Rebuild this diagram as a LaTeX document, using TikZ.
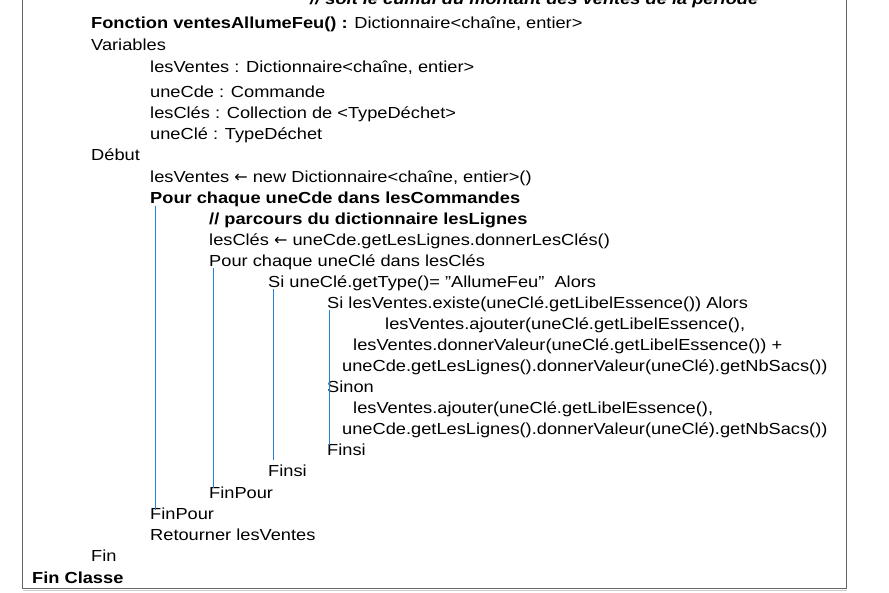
\documentclass[tikz,border=0pt]{standalone}
\usepackage{fontspec}
\setmainfont{Liberation Sans}[FakeStretch=1.14,Ligatures=ResetAll]
\newfontfamily\arrowfont{DejaVu Sans}
\begin{document}
\begin{tikzpicture}[x=1pt,y=-1pt,
  t/.style={anchor=base west,inner sep=0pt,font=\fontsize{16}{18}\selectfont},
  bar/.style={draw=blue!50!cyan!70!gray,line width=0.6pt}]
\useasboundingbox (0,0) rectangle (889,592);
\begin{scope}
\clip (0,0) rectangle (889,592);
\draw[gray!80!black,line width=1pt] (22,-20) -- (22,588) -- (846,588) -- (846,-20);
\draw[gray!40,line width=1pt] (23,590) -- (847,590);
\node[t,font=\fontsize{16}{18}\selectfont\bfseries\itshape] (c0) at (310,4) {// soit le cumul du montant des ventes de la période};
\end{scope}
\newcommand\la{{\arrowfont\fontsize{16}{18}\selectfont ←}}
\node[t] (l1) at (91,28) {\textbf{Fonction ventesAllumeFeu() :} Dictionnaire<chaîne, entier>};
\node[t] (l2) at (91,50) {Variables};
\node[t] (l3) at (150,72) {lesVentes : Dictionnaire<chaîne, entier>};
\node[t] (l4) at (150,97) {uneCde : Commande};
\node[t] (l5) at (150,118) {lesClés : Collection de <TypeDéchet>};
\node[t] (l6) at (150,139) {uneClé : TypeDéchet};
\node[t] (l7) at (91,160) {Début};
\node[t] (l8) at (150,182) {lesVentes \la{} new Dictionnaire<chaîne, entier>()};
\node[t,font=\fontsize{16}{18}\selectfont\bfseries] (l9) at (150,203) {Pour chaque uneCde dans lesCommandes};
\node[t,font=\fontsize{16}{18}\selectfont\bfseries] (l10) at (209,224) {// parcours du dictionnaire lesLignes};
\node[t] (l11) at (209,245) {lesClés \la{} uneCde.getLesLignes.donnerLesClés()};
\node[t] (l12) at (209,266) {Pour chaque uneClé dans lesClés};
\node[t] (l13) at (268,287) {Si uneClé.getType()= "AllumeFeu"\ \ Alors};
\node[t] (l14) at (327,308) {Si lesVentes.existe(uneClé.getLibelEssence()) Alors};
\node[t] (l15) at (385,329) {lesVentes.ajouter(uneClé.getLibelEssence(),};
\node[t] (l16) at (353,350) {lesVentes.donnerValeur(uneClé.getLibelEssence()) +};
\node[t] (l17) at (342,371) {uneCde.getLesLignes().donnerValeur(uneClé).getNbSacs())};
\node[t] (l18) at (327,392) {Sinon};
\node[t] (l19) at (353,413) {lesVentes.ajouter(uneClé.getLibelEssence(),};
\node[t] (l20) at (342,434) {uneCde.getLesLignes().donnerValeur(uneClé).getNbSacs())};
\node[t] (l21) at (327,455) {Finsi};
\node[t] (l22) at (268,476) {Finsi};
\node[t] (l23) at (209,498) {FinPour};
\node[t] (l24) at (150,519) {FinPour};
\node[t] (l25) at (150,540) {Retourner lesVentes};
\node[t] (l26) at (91,561) {Fin};
\node[t,font=\fontsize{16}{18}\selectfont\bfseries] (l27) at (32,583) {Fin Classe};
\coordinate (b1a) at (155,206); \coordinate (b1b) at (155,510);
\coordinate (b2a) at (213,268); \coordinate (b2b) at (213,488);
\coordinate (b3a) at (273,289); \coordinate (b3b) at (273,460);
\coordinate (b4a) at (329,310); \coordinate (b4b) at (329,445);
\draw[bar] (b1a) -- (b1b);
\draw[bar] (b2a) -- (b2b);
\draw[bar] (b3a) -- (b3b);
\draw[bar] (b4a) -- (b4b);
\end{tikzpicture}
\end{document}
